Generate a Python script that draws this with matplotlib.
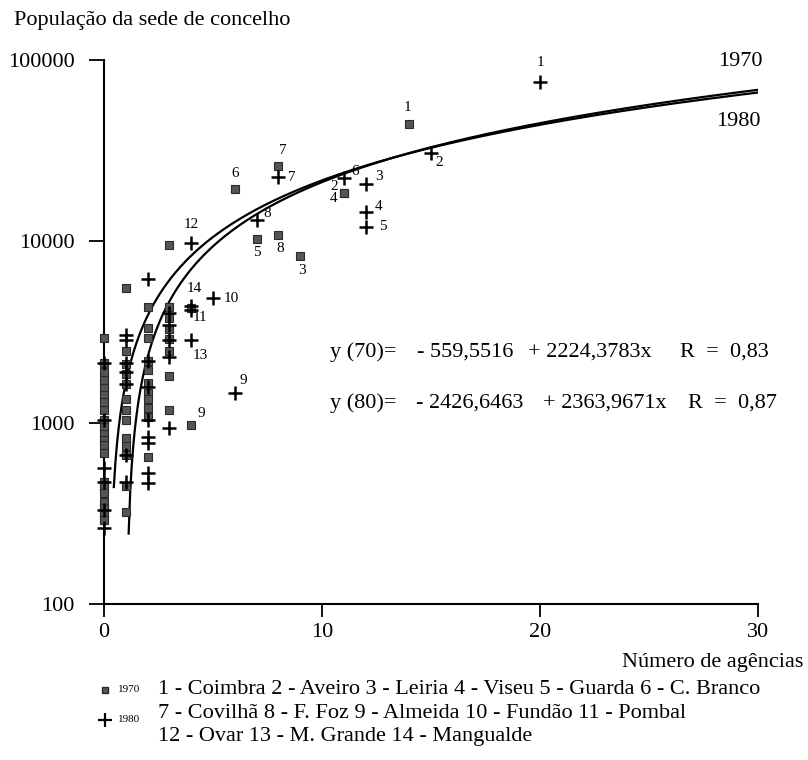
import numpy as np
import matplotlib.pyplot as plt
from matplotlib.lines import Line2D

plt.rcParams['font.family'] = ['Liberation Serif', 'DejaVu Serif']

# regression lines (from the chart)
a70, b70 = -559.5516, 2224.3783
a80, b80 = -2426.6463, 2363.9671

# unlabelled towns, 1970 (squares)
x70 = [0] * 21 + [1] * 13 + [2] * 11 + [3] * 7 + [4]
y70 = [2930, 2130, 1900, 1720, 1550, 1420, 1300, 1170, 1030, 950, 870, 800, 750, 680,
       470, 440, 410, 365, 340, 310, 290,
       5520, 2500, 2100, 1850, 1630, 1350, 1170, 1030, 820, 740, 660, 450, 320,
       4320, 3330, 2930, 2200, 1950, 1650, 1450, 1350, 1200, 1070, 650,
       4320, 3800, 3300, 2880, 2500, 1800, 1170,
       4300]

# unlabelled towns, 1980 (plus)
x80 = [0] * 6 + [1] * 7 + [2] * 8 + [3] * 5
y80 = [2130, 1030, 562, 470, 330, 262,
       3050, 2870, 2130, 1900, 1630, 662, 470,
       6200, 2200, 1570, 1030, 830, 770, 530, 465,
       4000, 3450, 2870, 2300, 930]

# labelled towns
lab70_num = ['1', '7', '6', '2', '4', '5', '8', '3', '9', '12']
lab70_x = [14, 8, 6, 11, 11, 7, 8, 9, 4, 3]
lab70_y = [44400, 26000, 19400, 18500, 18500, 10300, 10900, 8300, 975, 9550]
lab70_off = [(-2, 16), (4, 16), (0, 16), (-10, 6), (-10, -6), (0, -13), (2, -14), (2, -14), (10, 11), None]

lab80_num = ['1', '2', '7', '6', '3', '4', '5', '8', '12', '10', '14', '11', '13', '9']
lab80_x = [20, 15, 8, 11, 12, 12, 12, 7, 4, 5, 4, 4, 4, 6]
lab80_y = [75700, 30700, 22600, 22300, 20700, 14500, 12000, 13100, 9800, 4860, 4400, 4200, 2860, 1456]
lab80_off = [(0, 19), (8, -10), (13, 0), (11, 7), (13, 8), (13, 6), (17, 0), (11, 7),
             (0, 18), (18, 0), (3, 17), (9, -8), (9, -16), (9, 13)]

# equation pieces and the centre of each (pixels)
eq70_parts = ['y (70)=', '- 559,5516', '+ 2224,3783x', 'R  =  0,83']
eq70_xpix = [363, 465, 590, 724]
eq80_parts = ['y (80)=', '- 2426,6463', '+ 2363,9671x', 'R  =  0,87']
eq80_xpix = [363, 470, 605, 732]

legend_lines = ['1 - Coimbra 2 - Aveiro 3 - Leiria 4 - Viseu 5 - Guarda 6 - C. Branco',
                '7 - Covilhã 8 - F. Foz 9 - Almeida 10 - Fundão 11 - Pombal',
                '12 - Ovar 13 - M. Grande 14 - Mangualde']

fig = plt.figure(figsize=(8.08, 7.6), dpi=100)
ax = fig.add_axes([104 / 808, 1 - 604 / 760, 654 / 808, 544 / 760])

sq = dict(marker='s', ms=5.5, mfc='#555555', mec='#2a2a2a', mew=0.8, ls='none', clip_on=False, zorder=3)
pl = dict(marker='+', ms=9.5, mew=1.8, color='black', ls='none', clip_on=False, zorder=4)

ax.plot(x70, y70, **sq)
ax.plot(lab70_x, lab70_y, **sq)
ax.plot(x80, y80, **pl)
ax.plot(lab80_x, lab80_y, **pl)

for n, x, y, off in zip(lab70_num, lab70_x, lab70_y, lab70_off):
    if off is None:
        continue
    ax.annotate(n, (x, y), xytext=off, textcoords='offset pixels',
                ha='center', va='center', fontsize=11)
for n, x, y, off in zip(lab80_num, lab80_x, lab80_y, lab80_off):
    ax.annotate(n, (x, y), xytext=off, textcoords='offset pixels',
                ha='center', va='center', fontsize=11)

xx70 = np.linspace(0.45, 30, 400)
xx80 = np.linspace(1.13, 30, 400)
ax.plot(xx70, a70 + b70 * xx70, color='black', lw=1.6, zorder=2)
ax.plot(xx80, a80 + b80 * xx80, color='black', lw=1.6, zorder=2)

ax.set_yscale('log')
ax.set_xlim(0, 30)
ax.set_ylim(100, 100000)
ax.set_yticks([100, 1000, 10000, 100000])
ax.set_yticklabels(['100', '1000', '10000', '100000'])
ax.yaxis.set_minor_locator(plt.NullLocator())
ax.set_xticks([0, 10, 20, 30])
ax.set_xticklabels(['0', '10', '20', '30'])
ax.tick_params(axis='y', length=11, width=1.3, pad=10, labelsize=16)
ax.tick_params(axis='x', length=9, width=1.3, pad=5, labelsize=16)
for s in ['top', 'right']:
    ax.spines[s].set_visible(False)
for s in ['left', 'bottom']:
    ax.spines[s].set_linewidth(1.5)

fig.text(718 / 808, 1 - 62 / 760, '1970', fontsize=16, va='center')
fig.text(716 / 808, 1 - 122 / 760, '1980', fontsize=16, va='center')

for t, xp in zip(eq70_parts, eq70_xpix):
    fig.text(xp / 808, 1 - 352 / 760, t, fontsize=16, va='center', ha='center')
for t, xp in zip(eq80_parts, eq80_xpix):
    fig.text(xp / 808, 1 - 403 / 760, t, fontsize=16, va='center', ha='center')

fig.text(14 / 808, 1 - 20 / 760, 'População da sede de concelho', fontsize=16, va='center')
fig.text(803 / 808, 1 - 662 / 760, 'Número de agências', fontsize=16, va='center', ha='right')

# legend below the chart
fig.add_artist(Line2D([105 / 808], [1 - 690 / 760], marker='s', ms=4, mfc='#555555', mec='#2a2a2a', ls='none'))
fig.add_artist(Line2D([105 / 808], [1 - 720 / 760], marker='+', ms=10, mew=1.6, color='black', ls='none'))
fig.text(118 / 808, 1 - 690 / 760, '1970', fontsize=8, va='center')
fig.text(118 / 808, 1 - 720 / 760, '1980', fontsize=8, va='center')
for i, line in enumerate(legend_lines):
    fig.text(158 / 808, 1 - (690 + 23.5 * i) / 760, line, fontsize=16, va='center')

fig.savefig('out.png', dpi=100)
